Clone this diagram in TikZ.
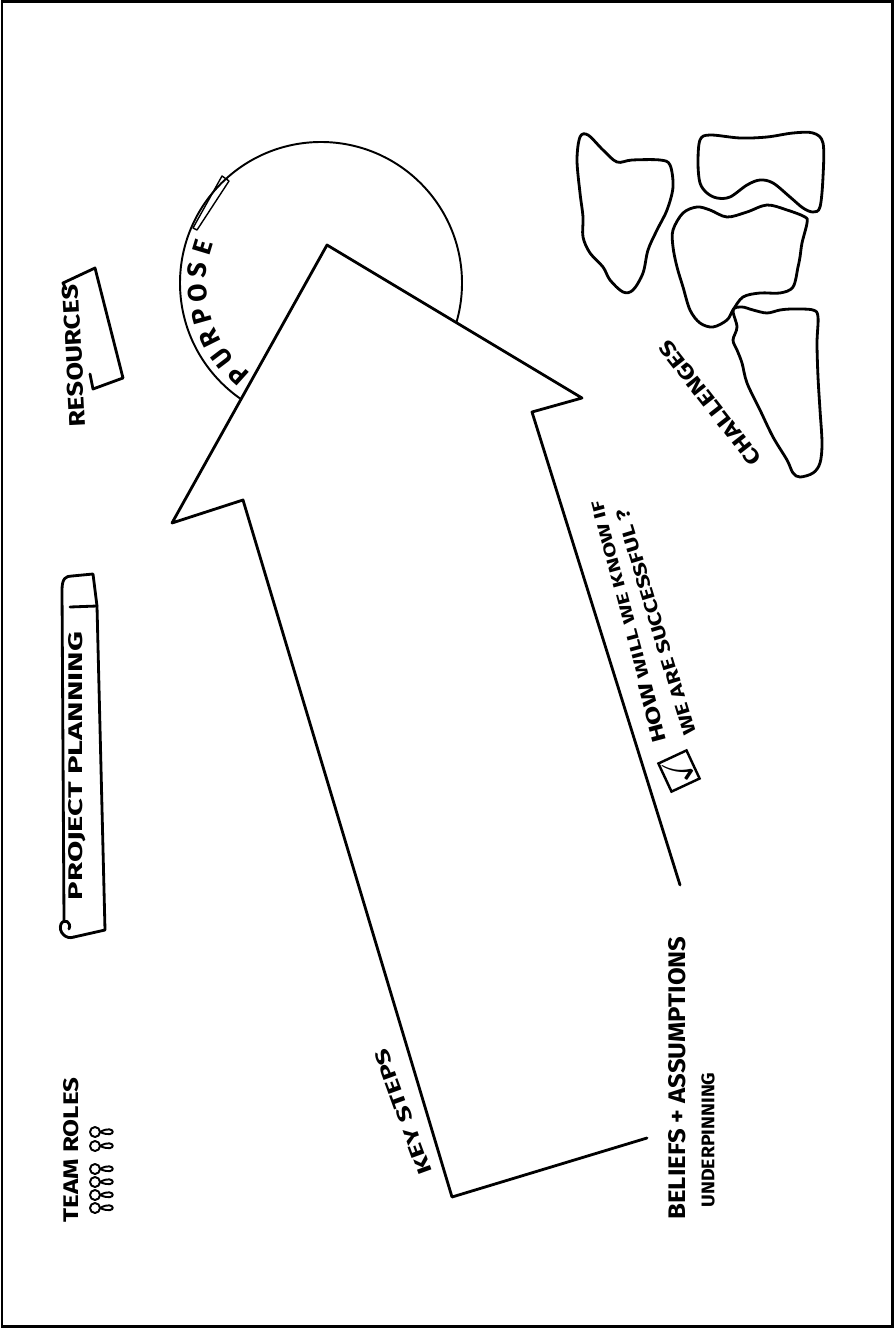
\documentclass[tikz,border=0pt]{standalone}
\usepackage{amssymb}
\usepackage{graphicx}
\usepackage{fontspec}
\setmainfont{Fira Sans}
\usetikzlibrary{calc}

\newlength\pxu
\setlength\pxu{0.02cm}
% squeeze a label into a given width and cap height (in px)
\newcommand\fitto[3]{\resizebox{#1\pxu}{#2\pxu}{#3}}

\begin{document}
\begin{tikzpicture}[x=0.02cm, y=-0.02cm,
    ink/.style={line width=1.6pt, line join=round, line cap=round},
    thinink/.style={line width=1.1pt, line join=round, line cap=round},
    lbl/.style={inner sep=0pt, font=\bfseries},
    every node/.style={inner sep=0pt}
]
\useasboundingbox (0,0) rectangle (894,1328);
\draw[line width=0.06cm] (2,2) rectangle (892,1326);

% =============================================
% Purpose circle (behind the arrow)
% =============================================
\coordinate (pc) at (321,283);
\draw[thinink] (pc) circle [radius=141];

% =============================================
% Big arrow
% =============================================
\coordinate (tip) at (327,245);
\coordinate (rbo) at (582,398);
\coordinate (rbi) at (532,412);
\coordinate (rend) at (680,885);
\coordinate (lbo) at (172,523);
\coordinate (lbi) at (243,500);
\coordinate (corner) at (452,1197);
\coordinate (bend) at (647,1138);
\filldraw[ink, fill=white] (rend) -- (rbi) -- (rbo) -- (tip) -- (lbo) -- (lbi) -- (corner) -- (bend);

% pencil mark on the circle + PURPOSE letters
\draw[thinink, line width=0.8pt] (193,228) -- (222,176) -- (229,181) -- (197,230) -- cycle;
\foreach \ch [count=\i from 0] in {P,U,R,P,O,S,E} {
    \pgfmathsetmacro\ang{132+\i*10.8}
    \node[lbl, font=\bfseries\fontsize{15}{15}\selectfont, rotate={-\ang-90}] (purpose\i) at ($(pc)+(\ang:124)$) {\ch};
}

% =============================================
% Left column: roles, planning banner, resources
% =============================================
\node[lbl, rotate=90] (teamroles) at (71,1150) {\fitto{145}{15}{TEAM ROLES}};
\foreach \yy in {1208,1195,1182,1169,1146,1132} {
    \draw[thinink] (95,\yy) circle [radius=5];
    \draw[thinink] (100,\yy) .. controls (116,\yy-9) and (118,\yy+8) .. (100,\yy);
}

\draw[ink] (70,607) -- (97,606);
\draw[ink] (64,920) -- (62,590) .. controls (62,578) and (66,576) .. (72,576) -- (93,574) -- (97,606) -- (105,930) -- (74,937);
\draw[ink] (74,937) .. controls (66,940) and (58,932) .. (61,924) .. controls (64,918) and (72,922) .. (69,929);
\node[lbl, rotate=90] (planning) at (77,766) {\fitto{268}{14}{PROJECT PLANNING}};

\draw[ink] (66,289) -- (63,283) -- (95,268) -- (123,378) -- (93,389) -- (90,374);
\node[lbl, rotate=93] (resources) at (74,356) {\fitto{142}{16}{RESOURCES}};

% =============================================
% Challenges blobs
% =============================================
\draw[ink] plot[smooth cycle, tension=0.55] coordinates {
    (580,137) (588,135) (603,150) (617,162) (632,160) (660,160) (670,165)
    (673,187) (667,210) (657,230) (648,250) (643,273) (633,290) (623,292)
    (610,280) (603,267) (590,253) (583,237) (583,217) (580,193) (577,160)};
\draw[ink] plot[smooth cycle, tension=0.55] coordinates {
    (700,140) (710,135) (740,138) (767,137) (793,133) (813,133) (823,143)
    (823,177) (820,207) (813,212) (803,208) (790,197) (773,183) (760,180)
    (747,185) (730,197) (717,198) (707,193) (700,183) (698,163)};
\draw[ink] plot[smooth cycle, tension=0.55] coordinates {
    (673,230) (683,213) (697,207) (710,210) (727,217) (747,212) (767,205)
    (787,210) (805,217) (807,223) (802,243) (800,257) (798,267) (793,287)
    (780,293) (760,293) (743,297) (733,310) (727,320) (713,327) (700,323)
    (690,310) (683,287) (677,267) (673,247)};
\draw[ink] plot[smooth cycle, tension=0.55] coordinates {
    (733,310) (742,307) (753,310) (767,313) (780,310) (793,309) (813,310)
    (818,317) (817,343) (818,377) (820,410) (822,443) (820,463) (813,473)
    (800,477) (793,473) (787,460) (773,437) (760,410) (747,383) (742,363)
    (737,350) (733,340) (737,327)};
\node[lbl, rotate=128] (challenges) at (710,403) {\fitto{152}{15}{CHALLENGES}};

% =============================================
% Labels along the arrow
% =============================================
\node[lbl, rotate=115, draw, line width=1.4pt, minimum size=0.62cm] (tick) at (679,771) {\huge$\checkmark$};
\node[lbl, rotate=105] (success1) at (628,622) {\fitto{250}{14}{{\large HOW} WILL WE KNOW IF}};
\node[lbl, rotate=107] (success2) at (656,622) {\fitto{235}{13}{WE ARE SUCCESSFUL ?}};

\node[lbl, rotate=110] (keysteps) at (403,1112) {\fitto{132}{14}{KEY STEPS}};

\node[lbl, rotate=90] (beliefs) at (677,1078) {\fitto{283}{17}{BELIEFS + ASSUMPTIONS}};
\node[lbl, rotate=90] (underpin) at (708,1140) {\fitto{135}{13}{UNDERPINNING}};

\end{tikzpicture}
\end{document}
